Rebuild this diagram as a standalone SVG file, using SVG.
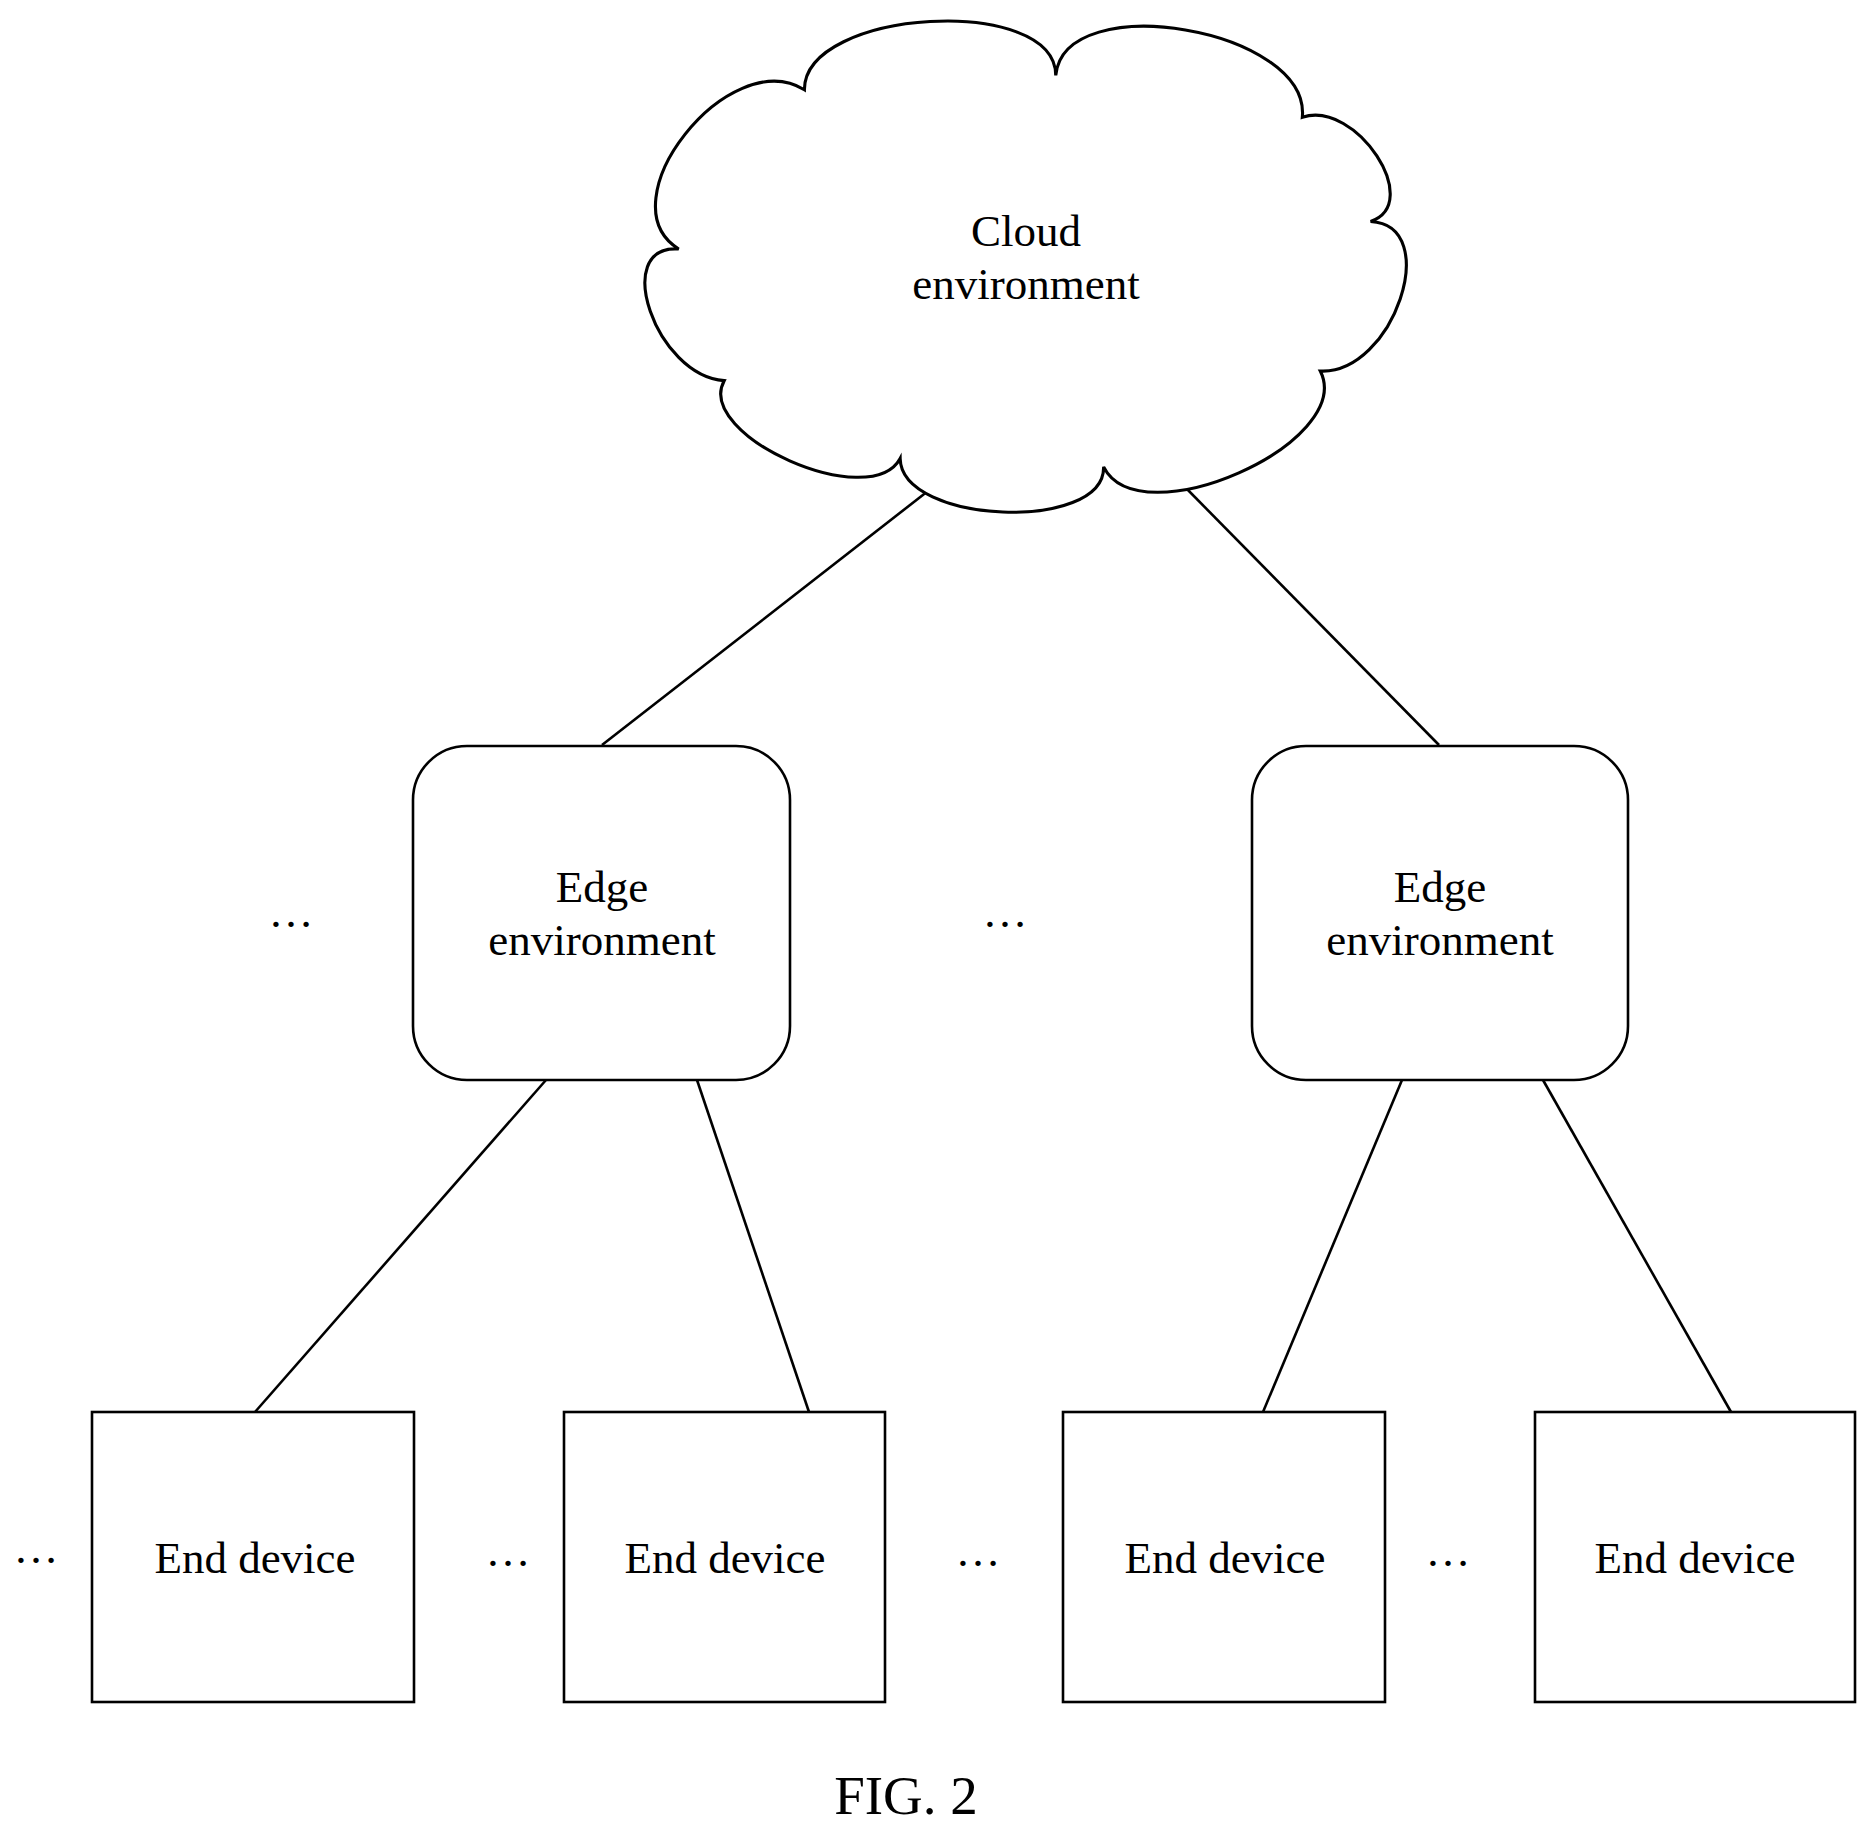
<svg xmlns="http://www.w3.org/2000/svg" width="1867" height="1830" viewBox="0 0 1867 1830">
<style>
.s{fill:#fff;stroke:#000;stroke-width:2.6}
.l{stroke:#000;stroke-width:2.6;fill:none}
text{font-family:"Liberation Serif","Times New Roman",serif;font-size:45px;fill:#000;text-anchor:middle}
</style>
<rect width="1867" height="1830" fill="#fff"/>
<g id="connectors">
<line class="l" x1="928" y1="491" x2="602" y2="745"/>
<line class="l" x1="1183" y1="485" x2="1439" y2="745"/>
<line class="l" x1="546" y1="1080" x2="255" y2="1412"/>
<line class="l" x1="697" y1="1080" x2="809" y2="1412"/>
<line class="l" x1="1402" y1="1080" x2="1263" y2="1412"/>
<line class="l" x1="1543" y1="1080" x2="1731" y2="1412"/>
</g>
<g id="cloud">
<path class="s" transform="scale(1.197)" stroke-width="2.2" d="M567,208 C504,169 609,36 672,75 C672,7 882,-5 882,63 C889,-11 1095,24 1088,98 C1133,83 1190,170 1145,185 C1206,188 1164,313 1103,310 C1133,370 952,450 922,390 C923,445 753,438 752,383 C727,429 580,364 605,318 C548,314 510,204 567,208 Z"/>
<text x="1026" y="246">Cloud</text>
<text x="1026" y="299">environment</text>
</g>
<g id="edge1">
<rect class="s" x="413" y="746" width="377" height="334" rx="54"/>
<text x="602" y="902">Edge</text>
<text x="602" y="955">environment</text>
</g>
<g id="edge2">
<rect class="s" x="1252" y="746" width="376" height="334" rx="54"/>
<text x="1440" y="902">Edge</text>
<text x="1440" y="955">environment</text>
</g>
<g id="end1"><rect class="s" x="92" y="1412" width="322" height="290"/><text x="255" y="1573">End device</text></g>
<g id="end2"><rect class="s" x="564" y="1412" width="321" height="290"/><text x="725" y="1573">End device</text></g>
<g id="end3"><rect class="s" x="1063" y="1412" width="322" height="290"/><text x="1225" y="1573">End device</text></g>
<g id="end4"><rect class="s" x="1535" y="1412" width="320" height="290"/><text x="1695" y="1573">End device</text></g>
<g id="dots">
<text x="36" y="1563">…</text>
<text x="508" y="1566">…</text>
<text x="978" y="1566">…</text>
<text x="1448" y="1566">…</text>
<text x="291" y="927">…</text>
<text x="1005" y="927">…</text>
</g>
<text x="906" y="1814" style="font-size:55px">FIG. 2</text>
</svg>
